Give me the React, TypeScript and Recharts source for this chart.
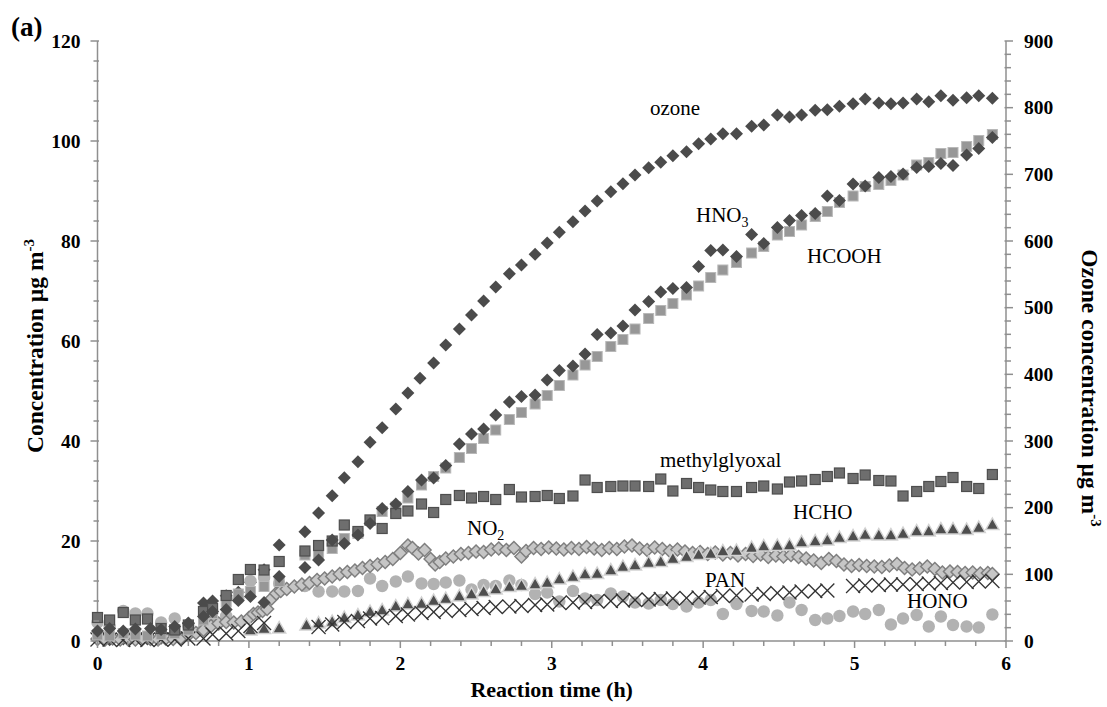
import React from "react";
import { ScatterChart, Scatter, XAxis, YAxis } from "recharts";

// [hour, value] pairs
const ozone: [number, number][] = [
  [0, 3], [0.08, 2], [0.17, 3], [0.25, 2], [0.33, 3], [0.42, 4], [0.51, 6], [0.6, 27], [0.7, 57], [0.76, 60],
  [0.85, 68], [0.93, 73], [1.01, 88], [1.1, 107], [1.2, 144], [1.37, 164], [1.46, 192], [1.55, 218], [1.63, 245],
  [1.72, 269], [1.8, 298], [1.88, 320], [1.97, 348], [2.05, 372], [2.13, 394], [2.22, 417], [2.3, 444], [2.39, 468],
  [2.47, 489], [2.55, 510], [2.63, 531], [2.72, 551], [2.8, 564], [2.89, 580], [2.97, 597], [3.05, 613], [3.14, 629],
  [3.22, 645], [3.3, 660], [3.39, 674], [3.47, 686], [3.55, 699], [3.64, 710], [3.72, 718], [3.8, 728], [3.89, 734],
  [3.97, 746], [4.05, 753], [4.13, 761], [4.22, 761], [4.32, 772], [4.4, 774], [4.49, 789], [4.57, 786], [4.65, 789],
  [4.74, 796], [4.82, 797], [4.9, 802], [4.99, 806], [5.07, 813], [5.16, 807], [5.24, 806], [5.32, 807], [5.41, 813],
  [5.49, 809], [5.57, 818], [5.65, 811], [5.74, 815], [5.82, 818], [5.91, 814],
];

const hno3: [number, number][] = [
  [0, 2.0], [0.08, 2.5], [0.17, 2.0], [0.25, 2.4], [0.35, 2.5], [0.42, 2.3], [0.51, 2.9], [0.6, 3.5], [0.7, 4.9],
  [0.76, 5.9], [0.85, 6.3], [0.93, 8.1], [1.01, 8.9], [1.1, 7.7], [1.2, 12.9], [1.37, 14.7], [1.46, 16.2],
  [1.55, 20.2], [1.63, 19.5], [1.72, 21.2], [1.8, 23.5], [1.88, 26.5], [1.97, 27.4], [2.05, 29.9], [2.14, 32.2],
  [2.22, 32.6], [2.3, 35.1], [2.39, 39.4], [2.47, 41.4], [2.55, 42.4], [2.63, 45.2], [2.72, 47.8], [2.8, 48.9],
  [2.89, 49.2], [2.97, 52.2], [3.05, 54.1], [3.14, 55.0], [3.22, 57.4], [3.3, 61.3], [3.39, 61.6], [3.47, 63.0],
  [3.55, 66.2], [3.64, 67.9], [3.72, 69.8], [3.8, 70.5], [3.89, 70.7], [3.97, 74.9], [4.05, 78.1], [4.13, 78.2],
  [4.22, 76.9], [4.32, 81.3], [4.4, 79.5], [4.49, 82.7], [4.57, 84.1], [4.65, 85.1], [4.74, 85.5], [4.82, 89.0],
  [4.9, 88.1], [4.99, 91.4], [5.07, 91.0], [5.16, 92.7], [5.24, 92.9], [5.32, 93.4], [5.41, 94.7], [5.49, 94.9],
  [5.57, 95.5], [5.65, 95.1], [5.74, 97.2], [5.82, 98.5], [5.91, 100.7],
];

const hcooh: [number, number][] = [
  [0, 1.2], [0.08, 1.0], [0.17, 1.5], [0.25, 1.2], [0.33, 1.0], [0.42, 1.3], [0.51, 1.5], [0.6, 2.2], [0.7, 4.2],
  [0.76, 5.5], [0.85, 7.8], [0.93, 9.4], [1.01, 9.9], [1.1, 10.9], [1.2, 11.9], [1.37, 17.2], [1.46, 17.5],
  [1.55, 18.5], [1.63, 20.5], [1.72, 21.5], [1.8, 24.2], [1.88, 25.9], [1.97, 26.8], [2.05, 28.6], [2.14, 31.2],
  [2.22, 32.9], [2.3, 34.6], [2.39, 36.7], [2.47, 38.5], [2.55, 40.5], [2.63, 42.2], [2.72, 44.3], [2.8, 45.7],
  [2.89, 47.4], [2.97, 49.1], [3.05, 51.1], [3.14, 53.2], [3.22, 55.2], [3.3, 56.9], [3.39, 58.9], [3.47, 60.3],
  [3.55, 62.4], [3.64, 64.5], [3.72, 66.1], [3.8, 67.5], [3.89, 69.2], [3.97, 71.0], [4.05, 72.7], [4.13, 74.2],
  [4.22, 75.7], [4.32, 77.6], [4.4, 78.9], [4.49, 81.2], [4.57, 81.9], [4.65, 83.2], [4.74, 84.9], [4.82, 85.9],
  [4.9, 87.7], [4.99, 89.0], [5.07, 90.9], [5.16, 91.3], [5.24, 92.1], [5.32, 93.2], [5.41, 95.2], [5.49, 95.7],
  [5.57, 97.5], [5.65, 97.7], [5.74, 98.9], [5.82, 100.1], [5.91, 101.3],
];

const methylglyoxal: [number, number][] = [
  [0, 4.7], [0.08, 4.2], [0.17, 5.7], [0.25, 4.2], [0.33, 4.4], [0.42, 2.5], [0.51, 2.2], [0.6, 3.2], [0.7, 5.9],
  [0.76, 6.5], [0.85, 9.1], [0.93, 12.3], [1.01, 14.3], [1.1, 14.2], [1.2, 15.9], [1.37, 18.0], [1.46, 19.1],
  [1.55, 20.0], [1.63, 23.2], [1.72, 21.9], [1.8, 24.2], [1.88, 22.5], [1.97, 25.5], [2.05, 26.0], [2.14, 27.4],
  [2.22, 25.7], [2.3, 28.3], [2.39, 29.1], [2.47, 28.6], [2.55, 28.9], [2.63, 28.3], [2.72, 30.3], [2.8, 28.8],
  [2.89, 28.9], [2.97, 29.1], [3.05, 28.5], [3.14, 29.0], [3.22, 32.2], [3.3, 30.7], [3.39, 30.9], [3.47, 31.0],
  [3.55, 31.0], [3.64, 30.9], [3.72, 32.4], [3.8, 30.0], [3.89, 31.5], [3.97, 30.7], [4.05, 30.2], [4.13, 29.9],
  [4.22, 29.9], [4.32, 30.7], [4.4, 31.0], [4.49, 30.4], [4.57, 31.8], [4.65, 32.0], [4.74, 32.3], [4.82, 32.9],
  [4.9, 33.6], [4.99, 32.5], [5.07, 33.2], [5.16, 32.1], [5.24, 32.0], [5.32, 29.0], [5.41, 29.9], [5.49, 30.9],
  [5.57, 31.9], [5.65, 32.7], [5.74, 30.9], [5.82, 30.5], [5.91, 33.3],
];

const hcho: [number, number][] = [
  [1.01, 2.2], [1.1, 2.5], [1.2, 2.6], [1.38, 3.2], [1.46, 3.6], [1.55, 3.9], [1.63, 4.7], [1.72, 5.2], [1.8, 5.9],
  [1.88, 6.2], [1.97, 7.0], [2.05, 7.4], [2.14, 7.5], [2.22, 8.1], [2.3, 8.5], [2.39, 9.0], [2.47, 9.4], [2.55, 9.9],
  [2.63, 10.4], [2.72, 10.9], [2.8, 11.1], [2.89, 11.4], [2.97, 11.7], [3.05, 12.4], [3.14, 12.9], [3.22, 13.4],
  [3.3, 13.5], [3.39, 14.2], [3.47, 14.9], [3.55, 15.2], [3.64, 15.7], [3.72, 15.9], [3.8, 16.5], [3.89, 16.9],
  [3.97, 17.3], [4.05, 17.5], [4.13, 18.0], [4.22, 18.1], [4.32, 18.7], [4.4, 19.0], [4.49, 19.1], [4.57, 19.2],
  [4.65, 19.8], [4.74, 20.0], [4.82, 20.2], [4.9, 20.7], [4.99, 21.0], [5.07, 21.3], [5.16, 21.2], [5.24, 21.2],
  [5.32, 21.5], [5.41, 22.0], [5.49, 22.0], [5.57, 22.4], [5.65, 22.4], [5.74, 22.3], [5.82, 22.7], [5.91, 23.3],
];

const pan: [number, number][] = [
  [0, 0.3], [0.08, 0.3], [0.17, 0.2], [0.25, 0.3], [0.33, 0.2], [0.42, 0.3], [0.51, 0.3], [0.6, 0.5], [0.7, 0.5],
  [0.76, 1.3], [0.85, 1.5], [0.93, 2.0], [1.01, 3.0], [1.1, 3.6],
  [1.46, 2.8], [1.55, 3.3], [1.63, 3.8], [1.72, 4.0], [1.8, 4.5], [1.88, 4.6], [1.97, 5.0], [2.05, 5.3], [2.14, 5.6],
  [2.22, 5.8], [2.3, 6.0], [2.39, 6.2], [2.47, 6.4], [2.55, 6.6], [2.63, 6.8], [2.72, 6.9], [2.8, 7.0], [2.89, 7.2],
  [2.97, 7.3], [3.05, 7.6], [3.14, 7.7], [3.22, 7.8], [3.3, 7.9], [3.39, 8.0], [3.47, 8.1], [3.55, 8.2], [3.64, 8.3],
  [3.72, 8.4], [3.8, 8.5], [3.89, 8.6], [3.97, 8.7], [4.05, 8.8], [4.13, 9.0], [4.22, 9.1], [4.32, 9.3], [4.4, 9.4],
  [4.49, 9.6], [4.57, 9.7], [4.65, 9.9], [4.74, 10.0], [4.82, 10.1],
  [4.99, 11.0], [5.07, 11.1], [5.16, 11.2], [5.24, 11.3], [5.32, 11.3], [5.41, 11.4], [5.49, 11.5], [5.57, 11.6],
  [5.65, 11.7], [5.74, 11.8], [5.82, 11.9], [5.91, 12.0],
];

const hono: [number, number][] = [
  [0, 3.7], [0.08, 2.8], [0.17, 6.0], [0.25, 5.5], [0.33, 5.5], [0.42, 3.7], [0.51, 4.5], [0.6, 3.0], [0.7, 2.5],
  [0.76, 3.5], [0.85, 5.0], [0.93, 8.5], [1.01, 12.0], [1.1, 12.6], [1.2, 11.5], [1.37, 11.0], [1.46, 9.9],
  [1.55, 9.9], [1.63, 9.9], [1.72, 10.0], [1.8, 12.5], [1.88, 11.0], [1.97, 11.9], [2.05, 12.9], [2.14, 11.5],
  [2.22, 11.4], [2.3, 11.7], [2.39, 12.1], [2.47, 10.3], [2.55, 11.2], [2.63, 11.0], [2.72, 12.1], [2.8, 11.2],
  [2.89, 9.4], [2.97, 9.7], [3.05, 7.9], [3.14, 10.0], [3.22, 8.5], [3.3, 8.2], [3.39, 9.5], [3.47, 8.9], [3.55, 7.7],
  [3.64, 7.5], [3.72, 8.2], [3.8, 7.4], [3.89, 6.9], [3.97, 7.7], [4.05, 8.2], [4.13, 5.4], [4.22, 7.4], [4.32, 6.0],
  [4.4, 5.9], [4.49, 5.1], [4.57, 7.7], [4.65, 6.2], [4.74, 4.2], [4.82, 4.5], [4.9, 5.0], [4.99, 5.9], [5.07, 5.4],
  [5.16, 6.2], [5.24, 3.3], [5.32, 4.5], [5.41, 5.2], [5.49, 2.9], [5.57, 4.9], [5.65, 3.2], [5.74, 2.9],
  [5.82, 2.7], [5.91, 5.3],
];

const no2: [number, number][] = [
  [0, 0.4], [0.05, 0.3], [0.1, 0.5], [0.15, 0.3], [0.2, 0.4], [0.25, 0.3], [0.3, 0.5], [0.35, 0.4], [0.4, 0.3],
  [0.45, 0.5], [0.5, 0.4], [0.55, 0.6], [0.6, 1.2], [0.65, 1.6], [0.7, 2.2], [0.75, 3.0], [0.8, 3.5], [0.85, 3.8],
  [0.9, 3.7], [0.95, 3.9], [1.0, 4.6], [1.03, 5.4], [1.06, 5.7], [1.09, 6.0], [1.12, 6.4], [1.15, 8.5], [1.18, 9.5],
  [1.21, 10.0], [1.25, 10.4], [1.3, 10.9], [1.35, 11.3], [1.4, 11.6], [1.45, 12.2], [1.5, 12.5], [1.55, 12.9],
  [1.6, 13.4], [1.65, 13.8], [1.7, 14.1], [1.75, 14.6], [1.8, 15.0], [1.85, 15.3], [1.9, 15.8], [1.95, 16.4],
  [2.0, 17.6], [2.05, 19.1], [2.08, 18.6], [2.12, 17.5], [2.16, 18.2], [2.2, 16.4], [2.23, 15.3], [2.26, 15.8],
  [2.3, 16.5], [2.35, 16.9], [2.4, 17.4], [2.45, 17.6], [2.5, 17.9], [2.55, 17.8], [2.6, 18.3], [2.65, 18.5],
  [2.7, 18.2], [2.75, 18.6], [2.8, 16.9], [2.83, 18.0], [2.88, 18.6], [2.93, 18.4], [2.98, 18.7], [3.03, 18.5],
  [3.08, 18.3], [3.13, 18.6], [3.18, 18.4], [3.23, 18.8], [3.28, 18.5], [3.33, 18.2], [3.38, 18.6], [3.43, 18.4],
  [3.48, 18.9], [3.53, 19.1], [3.58, 18.5], [3.63, 18.2], [3.68, 18.7], [3.73, 18.4], [3.78, 18.0], [3.83, 18.3],
  [3.88, 17.9], [3.93, 17.6], [3.98, 17.8], [4.03, 17.4], [4.08, 17.7], [4.13, 17.3], [4.18, 17.6], [4.23, 17.1],
  [4.28, 17.4], [4.33, 17.0], [4.38, 17.3], [4.43, 16.8], [4.48, 17.1], [4.53, 16.9], [4.58, 17.2], [4.63, 16.8],
  [4.68, 16.5], [4.73, 16.1], [4.78, 15.6], [4.83, 16.4], [4.88, 16.0], [4.93, 15.3], [4.98, 15.0], [5.03, 15.2],
  [5.08, 15.0], [5.13, 14.9], [5.18, 14.8], [5.23, 15.1], [5.28, 15.4], [5.33, 14.6], [5.38, 14.3], [5.43, 14.5],
  [5.48, 14.9], [5.53, 14.4], [5.58, 13.7], [5.63, 13.9], [5.68, 13.8], [5.73, 13.6], [5.78, 13.7], [5.83, 13.5],
  [5.88, 13.6], [5.91, 13.4],
];

const xTicks = [0, 0.2, 0.4, 0.6, 0.8, 1, 1.2, 1.4, 1.6, 1.8, 2, 2.2, 2.4, 2.6, 2.8, 3, 3.2, 3.4, 3.6, 3.8, 4,
  4.2, 4.4, 4.6, 4.8, 5, 5.2, 5.4, 5.6, 5.8, 6];
const leftTicks = [0, 4, 8, 12, 16, 20, 24, 28, 32, 36, 40, 44, 48, 52, 56, 60, 64, 68, 72, 76, 80, 84, 88, 92,
  96, 100, 104, 108, 112, 116, 120];
const rightTicks = [0, 20, 40, 60, 80, 100, 120, 140, 160, 180, 200, 220, 240, 260, 280, 300, 320, 340, 360, 380,
  400, 420, 440, 460, 480, 500, 520, 540, 560, 580, 600, 620, 640, 660, 680, 700, 720, 740, 760, 780, 800, 820,
  840, 860, 880, 900];

const axisColor = "#8f8f8f";
const serif = "'Liberation Serif', 'Times New Roman', Times, serif";

const pts = (rows: [number, number][]) => rows.map(([x, y]) => ({ x, y }));

const isWhole = (v: number, step: number) => Math.abs(v / step - Math.round(v / step)) < 1e-6;

const XTick = (props: any) => {
  const { x, y, payload } = props;
  const major = isWhole(payload.value, 1);
  return (
    <g>
      <line x1={x} x2={x} y1={y} y2={y + (major ? 7 : 5)} stroke={axisColor} strokeWidth={1.5} />
      {major && (
        <text x={x} y={y + 29} textAnchor="middle" fontFamily={serif} fontWeight="bold" fontSize={19.5} fill="#000">
          {payload.value}
        </text>
      )}
    </g>
  );
};

const LeftTick = (props: any) => {
  const { x, y, payload } = props;
  const major = isWhole(payload.value, 20);
  const ax = x + 17;
  return (
    <g>
      <line x1={ax - (major ? 7 : 4)} x2={ax + 1.5} y1={y} y2={y} stroke={axisColor} strokeWidth={1.5} />
      {major && (
        <text x={x} y={y} dy="0.34em" textAnchor="end" fontFamily={serif} fontWeight="bold" fontSize={19.5} fill="#000">
          {payload.value}
        </text>
      )}
    </g>
  );
};

const RightTick = (props: any) => {
  const { x, y, payload } = props;
  const major = isWhole(payload.value, 100);
  const ax = x - 18;
  return (
    <g>
      <line x1={ax - 1.5} x2={ax + (major ? 7 : 5)} y1={y} y2={y} stroke={axisColor} strokeWidth={1.5} />
      {major && (
        <text x={x} y={y} dy="0.34em" textAnchor="start" fontFamily={serif} fontWeight="bold" fontSize={19.5} fill="#000">
          {payload.value}
        </text>
      )}
    </g>
  );
};

const darkDiamond = (p: any) => (
  <polygon
    points={`${p.cx},${p.cy - 6.5} ${p.cx + 6.5},${p.cy} ${p.cx},${p.cy + 6.5} ${p.cx - 6.5},${p.cy}`}
    fill="#4b4b4b"
  />
);

const no2Diamond = (p: any) => (
  <polygon
    points={`${p.cx},${p.cy - 6.5} ${p.cx + 6.5},${p.cy} ${p.cx},${p.cy + 6.5} ${p.cx - 6.5},${p.cy}`}
    fill="#c6c6c6"
    stroke="#7f7f7f"
    strokeWidth={1.5}
  />
);

const lightSquare = (p: any) => (
  <rect x={p.cx - 5} y={p.cy - 5} width={10} height={10} fill="#979797" stroke="#b8b8b8" strokeWidth={1} />
);

const darkSquare = (p: any) => (
  <rect x={p.cx - 5} y={p.cy - 5} width={10} height={10} fill="#6e6e6e" stroke="#4e4e4e" strokeWidth={1.2} />
);

const triangle = (p: any) => (
  <polygon
    points={`${p.cx},${p.cy - 6.5} ${p.cx + 6.5},${p.cy + 5} ${p.cx - 6.5},${p.cy + 5}`}
    fill="#4e4e4e"
    stroke="#d2d2d2"
    strokeWidth={1.5}
  />
);

const cross = (p: any) => (
  <g stroke="#333333" strokeWidth={1.3}>
    <line x1={p.cx - 7} y1={p.cy - 7} x2={p.cx + 7} y2={p.cy + 7} />
    <line x1={p.cx - 7} y1={p.cy + 7} x2={p.cx + 7} y2={p.cy - 7} />
  </g>
);

const circle = (p: any) => <circle cx={p.cx} cy={p.cy} r={6.2} fill="#b2b2b2" />;

const labelStyle = { fontFamily: serif, fontSize: 21, fill: "#000" } as const;
const titleStyle = { fontFamily: serif, fontSize: 22, fontWeight: "bold", fill: "#000" } as const;
const sideTitleStyle = { fontFamily: serif, fontSize: 23.5, fontWeight: "bold", fill: "#000" } as const;

export default function App() {
  return (
    <div style={{ position: "absolute", left: 0, top: 0, width: 1107, height: 707, background: "#fff" }}>
      <ScatterChart width={1107} height={707} margin={{ top: 41, right: 0, bottom: 36, left: 0 }}>
        <XAxis
          type="number"
          dataKey="x"
          domain={[0, 6]}
          ticks={xTicks}
          interval={0}
          tick={XTick}
          tickLine={false}
          tickSize={0}
          tickMargin={0}
          height={30}
          axisLine={{ stroke: axisColor, strokeWidth: 1.5 }}
        />
        <YAxis
          yAxisId="left"
          type="number"
          dataKey="y"
          domain={[0, 120]}
          ticks={leftTicks}
          interval={0}
          tick={LeftTick}
          tickLine={false}
          tickSize={0}
          tickMargin={17}
          width={97.5}
          axisLine={{ stroke: axisColor, strokeWidth: 1.5 }}
        />
        <YAxis
          yAxisId="right"
          orientation="right"
          type="number"
          dataKey="y"
          domain={[0, 900]}
          ticks={rightTicks}
          interval={0}
          tick={RightTick}
          tickLine={false}
          tickSize={0}
          tickMargin={18}
          width={101}
          axisLine={{ stroke: axisColor, strokeWidth: 1.5 }}
        />
        <Scatter yAxisId="right" data={pts(ozone)} shape={darkDiamond} isAnimationActive={false} />
        <Scatter yAxisId="left" data={pts(hono)} shape={circle} isAnimationActive={false} />
        <Scatter yAxisId="left" data={pts(no2)} shape={no2Diamond} isAnimationActive={false} />
        <Scatter yAxisId="left" data={pts(hcho)} shape={triangle} isAnimationActive={false} />
        <Scatter yAxisId="left" data={pts(pan)} shape={cross} isAnimationActive={false} />
        <Scatter yAxisId="left" data={pts(hcooh)} shape={lightSquare} isAnimationActive={false} />
        <Scatter yAxisId="left" data={pts(methylglyoxal)} shape={darkSquare} isAnimationActive={false} />
        <Scatter yAxisId="left" data={pts(hno3)} shape={darkDiamond} isAnimationActive={false} />
      </ScatterChart>
      <svg width={1107} height={707} style={{ position: "absolute", left: 0, top: 0, pointerEvents: "none" }}>
        <text x={11} y={36} fontFamily={serif} fontWeight="bold" fontSize={27}>(a)</text>
        <text x={650} y={115} {...labelStyle}>ozone</text>
        <text x={696} y={222} {...labelStyle}>
          HNO<tspan dy={5} fontSize={14}>3</tspan>
        </text>
        <text x={807} y={263} {...labelStyle}>HCOOH</text>
        <text x={660} y={467} {...labelStyle}>methylglyoxal</text>
        <text x={793} y={519} {...labelStyle}>HCHO</text>
        <text x={467} y={535} {...labelStyle}>
          NO<tspan dy={5} fontSize={14}>2</tspan>
        </text>
        <text x={705} y={587} {...labelStyle}>PAN</text>
        <text x={907} y={608} {...labelStyle}>HONO</text>
        <text x={551.7} y={697} textAnchor="middle" {...titleStyle}>Reaction time (h)</text>
        <text x={43} y={346} textAnchor="middle" transform="rotate(-90 43 346)" {...sideTitleStyle}>
          Concentration µg m<tspan dy={-9} fontSize={15}>-3</tspan>
        </text>
        <text x={1082} y={388} textAnchor="middle" transform="rotate(90 1082 388)" {...sideTitleStyle}>
          Ozone concentration µg m<tspan dy={-9} fontSize={15}>-3</tspan>
        </text>
      </svg>
    </div>
  );
}
